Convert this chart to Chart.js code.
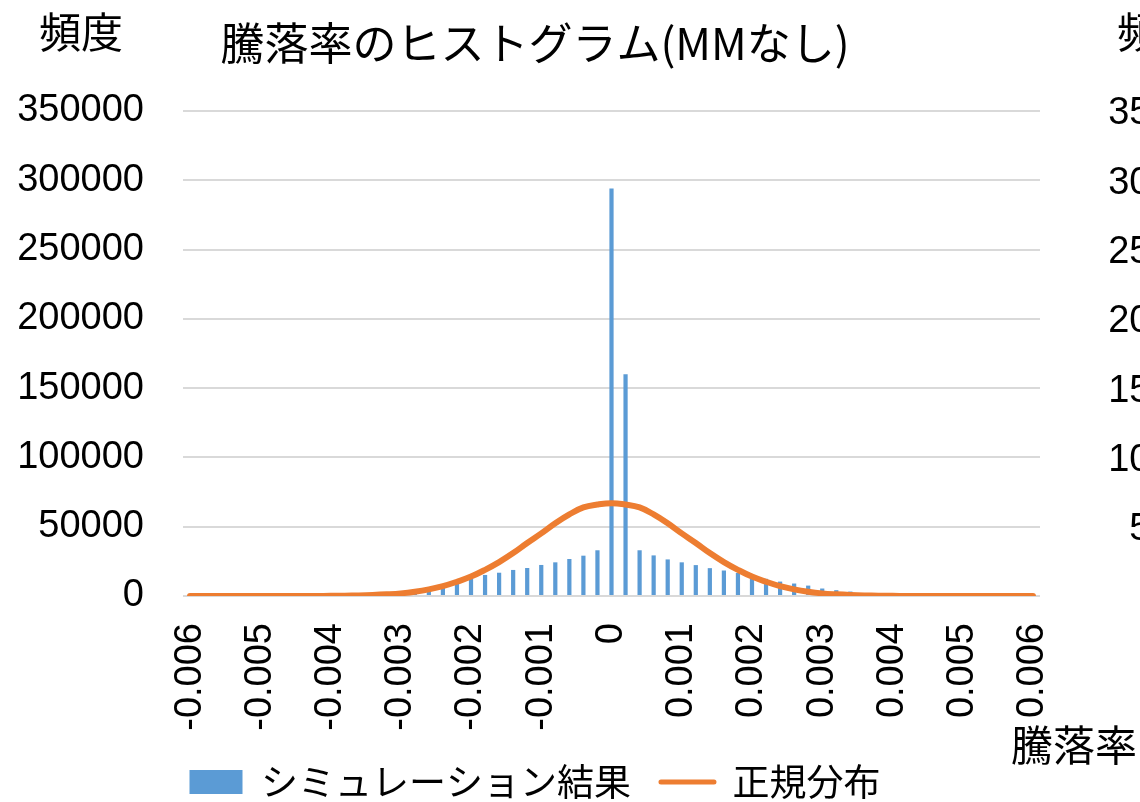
<!DOCTYPE html>
<html lang="ja">
<head>
<meta charset="utf-8">
<title>騰落率のヒストグラム(MMなし)</title>
<script src="https://cdn.jsdelivr.net/npm/chart.js@4.4.1/dist/chart.umd.min.js"></script>
<style>
  html, body { margin: 0; padding: 0; background: #fff; overflow: hidden; }
  #wrap { position: relative; width: 1140px; height: 802px; overflow: hidden; }
  #chartBox { position: absolute; left: 0; top: 0; width: 1140px; height: 802px; }
  .label { position: absolute; font-family: 'Noto Sans CJK JP', sans-serif; font-size: 42px; line-height: 42px; color: #000; white-space: nowrap; }
  .tick { position: absolute; font-family: 'Liberation Sans', sans-serif; font-size: 38px; line-height: 38px; color: #000; white-space: nowrap; text-align: right; width: 127px; }
</style>
</head>
<body>
<div id="wrap">
  <div id="chartBox"><canvas id="histChart"></canvas></div>
  <div class="label" style="left:39px; top:9px;">頻度</div>
  <div class="label" style="left:1117px; top:9px;">頻度</div>
  <div class="label" style="left:1011px; top:722px;">騰落率</div>
</div>
<script>
// 階級（騰落率, 0.0002刻み）
const categories = [
  '-0.006', '-0.0058', '-0.0056', '-0.0054', '-0.0052',
  '-0.005', '-0.0048', '-0.0046', '-0.0044', '-0.0042',
  '-0.004', '-0.0038', '-0.0036', '-0.0034', '-0.0032',
  '-0.003', '-0.0028', '-0.0026', '-0.0024', '-0.0022',
  '-0.002', '-0.0018', '-0.0016', '-0.0014', '-0.0012',
  '-0.001', '-0.0008', '-0.0006', '-0.0004', '-0.0002',
  '0',
  '0.0002', '0.0004', '0.0006', '0.0008', '0.001',
  '0.0012', '0.0014', '0.0016', '0.0018', '0.002',
  '0.0022', '0.0024', '0.0026', '0.0028', '0.003',
  '0.0032', '0.0034', '0.0036', '0.0038', '0.004',
  '0.0042', '0.0044', '0.0046', '0.0048', '0.005',
  '0.0052', '0.0054', '0.0056', '0.0058', '0.006'
];

// X軸に表示するラベル
const tickLabels = ['-0.006', '-0.005', '-0.004', '-0.003', '-0.002', '-0.001', '0',
  '0.001', '0.002', '0.003', '0.004', '0.005', '0.006'];

// 右側（隣のグラフ）のY軸目盛
const rightTicks = [350000, 300000, 250000, 200000, 150000, 100000, 50000];

// シミュレーション結果（頻度）
const simulated = [
  0, 0, 0, 0, 0, 0, 0, 0, 0, 0, 0, 0,
  100, 300, 600, 1200, 2200, 4100, 7000, 10100, 13000, 15200,
  16800, 18800, 20200, 22400, 24300, 26700, 29100, 33000,
  294000, 160000,
  33000, 29300, 26400, 24300, 22300, 20100, 18400, 16600, 14500, 12400,
  10400, 9000, 7500, 5400, 4200, 3200, 2000, 1100, 500, 200,
  0, 0, 0, 0, 0, 0, 0, 0, 0
];

// 正規分布
const normalDist = [
  0, 0, 0, 0, 0, 0,
  5, 10, 20, 50, 100, 200, 380, 700, 1200, 1900, 3100, 4800,
  7100, 10300, 14000, 18900, 24500, 31000, 38300, 45200, 52500, 58900, 63900, 66000,
  67000,
  66000, 63900, 58900, 52500, 45200, 38300, 31000, 24500, 18900, 14000, 10300, 7100,
  4800, 3100, 1900, 1200, 700, 380, 200, 100, 50, 20, 10, 5,
  0, 0, 0, 0, 0, 0
];

const blue = '#5B9BD5';
const orange = '#ED7D31';
const jpFont = "'Noto Sans CJK JP', sans-serif";

Chart.defaults.font.family = "'Liberation Sans', 'Noto Sans CJK JP', sans-serif";
Chart.defaults.color = '#000';

const histConfig = {
    type: 'bar',
    data: {
        labels: categories,
        datasets: [{
            type: 'bar',
            label: 'シミュレーション結果',
            data: simulated,
            backgroundColor: blue,
            borderWidth: 0,
            barPercentage: 0.3,
            categoryPercentage: 1,
            order: 1
        }, {
            type: 'line',
            label: '正規分布',
            data: normalDist,
            borderColor: orange,
            backgroundColor: orange,
            borderWidth: 6,
            borderCapStyle: 'round',
            pointRadius: 0,
            tension: 0.4,
            fill: false,
            order: 0  // 棒の上に描く
        }]
    },
    options: {
        responsive: true,
        maintainAspectRatio: false,
        animation: false,
        layout: { padding: { left: 15, right: 85, top: 0, bottom: -8.5 } },
        scales: {
            x: {
                grid: { display: false },
                border: { display: false },
                ticks: {
                    autoSkip: false,
                    minRotation: 90,
                    maxRotation: 90,
                    padding: 19,
                    font: { size: 38 },
                    callback: function (value, index) {
                        const c = categories[index];
                        return tickLabels.includes(c) ? c : '';
                    }
                },
                afterFit: (scale) => { scale.height = 137.5; }
            },
            y: {
                min: 0,
                max: 350000,
                grid: { color: '#d9d9d9', lineWidth: 2, drawTicks: false },
                border: { display: false },
                ticks: {
                    stepSize: 50000,
                    padding: 39,
                    font: { size: 38 },
                    callback: (v) => String(v)
                },
                afterFit: (scale) => { scale.width = 168; }
            },
            // 右側の余白用（表示なし）
            y2: {
                position: 'right',
                grid: { display: false },
                border: { display: false },
                ticks: { display: false },
                afterFit: (scale) => { scale.width = 15; }
            }
        },
        plugins: {
            title: {
                display: true,
                text: '騰落率のヒストグラム(MMなし)',
                color: '#000',
                font: { family: jpFont, size: 44, weight: 'normal' },
                padding: { top: 17, bottom: 41.2 }
            },
            legend: {
                position: 'bottom',
                labels: {
                    usePointStyle: true,
                    pointStyleWidth: 53,
                    boxHeight: 24,
                    padding: 30,
                    color: '#000',
                    font: { family: jpFont, size: 37 },
                    generateLabels: function (chart) {
                        const items = Chart.defaults.plugins.legend.labels.generateLabels(chart);
                        items.forEach((it) => {
                            if (it.datasetIndex === 0) {
                                it.pointStyle = 'rect';
                                it.lineWidth = 0;
                            } else {
                                it.pointStyle = 'line';
                                it.lineWidth = 5;
                                it.lineCap = 'round';
                            }
                        });
                        return items;
                    },
                    sort: (a, b) => a.datasetIndex - b.datasetIndex
                }
            },
            tooltip: { enabled: false }
        }
    }
};

const histChart = new Chart(document.getElementById('histChart'), histConfig);

// 隣のグラフの目盛ラベル（同じ縦位置）
const wrap = document.getElementById('wrap');
rightTicks.forEach((v) => {
    const d = document.createElement('div');
    d.className = 'tick';
    d.textContent = String(v);
    d.style.left = '1108px';
    d.style.top = (histChart.scales.y.getPixelForValue(v) - 18.6) + 'px';
    wrap.appendChild(d);
});
</script>
</body>
</html>
